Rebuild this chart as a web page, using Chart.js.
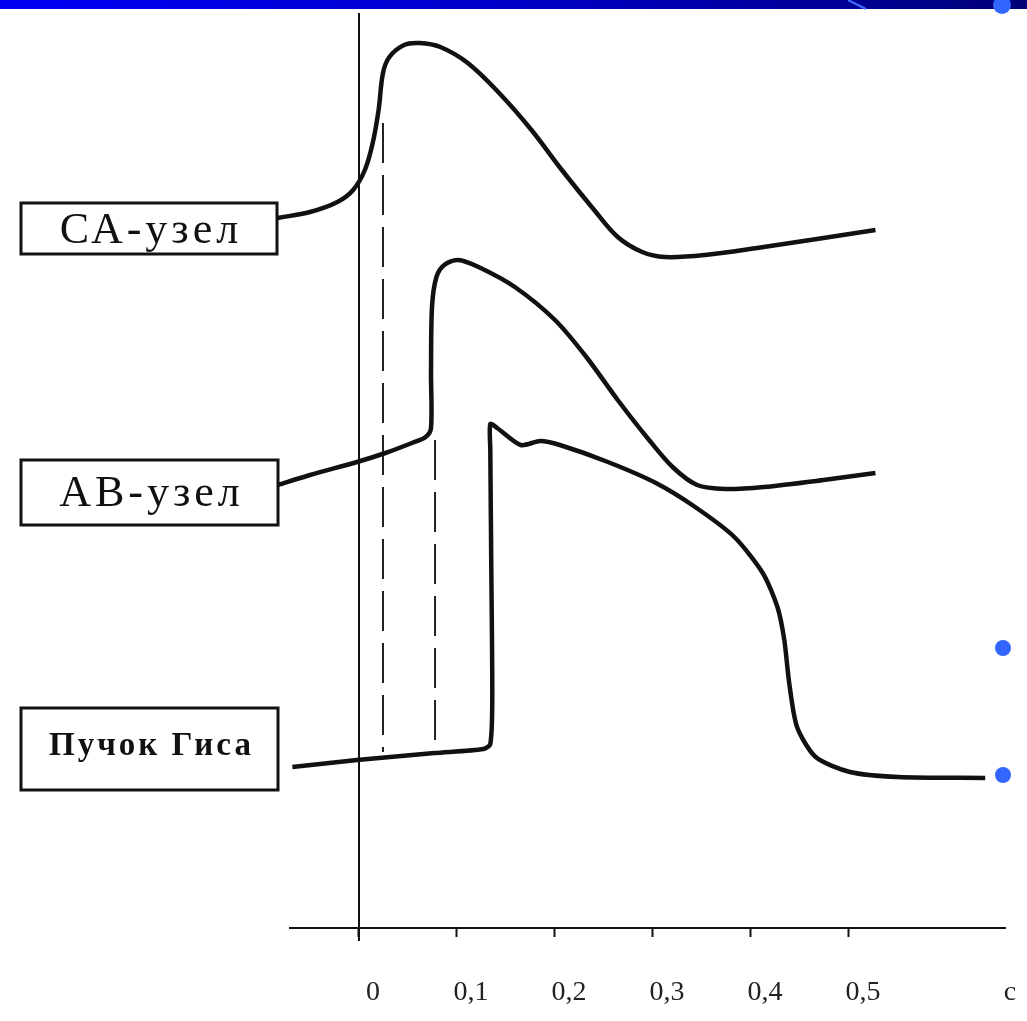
<!DOCTYPE html>
<html>
<head>
<meta charset="utf-8">
<script src="https://cdn.jsdelivr.net/npm/chart.js@4.4.0/dist/chart.umd.min.js"></script>
<style>
  html, body { margin: 0; padding: 0; background: #fff; }
  #wrap { width: 1027px; height: 1021px; position: relative; }
</style>
</head>
<body>
<div id="wrap"><canvas id="myChart"></canvas></div>
<script>
// time in seconds, potential in relative units
var seriesNames = ["СА-узел", "АВ-узел", "Пучок Гиса"];

var saX = [-0.083, -0.050, -0.022, -0.006, 0.006, 0.014, 0.020, 0.0245, 0.031, 0.046, 0.062, 0.083,
  0.111, 0.143, 0.176, 0.207, 0.240, 0.264, 0.289, 0.312, 0.353, 0.413, 0.474, 0.527];
var saY = [71.0, 71.6, 72.6, 73.8, 75.8, 78.5, 81.8, 85.5, 87.1, 88.3, 88.5, 88.1,
  86.5, 83.5, 79.8, 75.8, 71.8, 69.1, 67.6, 67.1, 67.3, 68.1, 69.0, 69.8];

var avX = [-0.083, -0.050, -0.002, 0.027, 0.054, 0.068, 0.0735, 0.0735, 0.0745, 0.079, 0.087, 0.101,
  0.122, 0.159, 0.200, 0.232, 0.264, 0.296, 0.320, 0.345, 0.374, 0.413, 0.474, 0.527];
var avY = [44.3, 45.3, 46.6, 47.5, 48.5, 49.1, 50.0, 55.5, 62.1, 65.1, 66.3, 66.8,
  66.1, 64.1, 60.8, 57.1, 52.8, 48.8, 46.1, 44.3, 43.9, 44.1, 44.8, 45.5];

var hisX = [-0.068, -0.002, 0.077, 0.127, 0.134, 0.136, 0.135, 0.134, 0.134, 0.141, 0.165, 0.185, 0.205,
  0.254, 0.303, 0.343, 0.383, 0.412, 0.427, 0.434, 0.439, 0.447, 0.466, 0.501, 0.550, 0.639];
var hisY = [16.1, 16.8, 17.5, 17.9, 18.4, 22.8, 36.1, 47.8, 50.4, 50.0, 48.3, 48.7, 48.3,
  46.6, 44.5, 42.1, 39.1, 35.5, 32.1, 28.8, 24.5, 20.1, 17.1, 15.6, 15.1, 15.0];

// dashed markers: SA-node and AV-node activation times
var markX = [0.0245, 0.0776];
var markTop = [80.5, 48.8];
var markBottom = 17.6;

var xTicks = [0, 0.1, 0.2, 0.3, 0.4, 0.5, 0.65];
var xTickLabels = ["0", "0,1", "0,2", "0,3", "0,4", "0,5", "с"];

function toPoints(xs, ys) {
  var pts = [];
  for (var i = 0; i < xs.length; i++) pts.push({ x: xs[i], y: ys[i] });
  return pts;
}

function curve(xs, ys, tension) {
  return {
    data: toPoints(xs, ys),
    borderColor: "#111",
    borderWidth: 4.5,
    pointRadius: 0,
    tension: tension,
    clip: false
  };
}

function marker(i) {
  return {
    data: [{ x: markX[i], y: markTop[i] }, { x: markX[i], y: markBottom }],
    borderColor: "#222",
    borderWidth: 2,
    borderDash: [40, 12],
    pointRadius: 0,
    clip: false
  };
}

// label boxes on the left plus the slide decorations
var boxPlugin = {
  id: "boxes",
  afterDraw: function(chart) {
    var ctx = chart.ctx;
    var boxes = [
      { x: 21, y: 203, w: 256, h: 51, font: "44px 'Liberation Serif'", sp: "4px", ty: 231 },
      { x: 21, y: 460, w: 257, h: 65, font: "44px 'Liberation Serif'", sp: "4px", ty: 494 },
      { x: 21, y: 708, w: 257, h: 82, font: "bold 33px 'Liberation Serif'", sp: "3px", ty: 746 }
    ];
    ctx.save();
    boxes.forEach(function(b, i) {
      ctx.fillStyle = "#fff";
      ctx.fillRect(b.x, b.y, b.w, b.h);
      ctx.strokeStyle = "#111";
      ctx.lineWidth = 3;
      ctx.strokeRect(b.x, b.y, b.w, b.h);
      ctx.fillStyle = "#111";
      ctx.font = b.font;
      ctx.letterSpacing = b.sp;
      ctx.textAlign = "center";
      ctx.textBaseline = "middle";
      ctx.fillText(seriesNames[i], b.x + b.w / 2 + 2, b.ty);
    });
    ctx.letterSpacing = "0px";

    // top bar
    var g = ctx.createLinearGradient(0, 0, 1027, 0);
    g.addColorStop(0, "#0000f5");
    g.addColorStop(0.5, "#0000c8");
    g.addColorStop(1, "#000078");
    ctx.fillStyle = g;
    ctx.fillRect(0, 0, 1027, 9);
    ctx.strokeStyle = "#3f6fff";
    ctx.lineWidth = 2;
    ctx.beginPath();
    ctx.moveTo(848, 0);
    ctx.lineTo(866, 9);
    ctx.stroke();

    ctx.fillStyle = "#3366ff";
    [[1002, 5, 9], [1003, 648, 8], [1003, 775, 8]].forEach(function(d) {
      ctx.beginPath();
      ctx.arc(d[0], d[1], d[2], 0, Math.PI * 2);
      ctx.fill();
    });
    ctx.restore();
  }
};

window.onload = function() {
  var ctx = document.getElementById("myChart").getContext("2d");
  var chart = new Chart(ctx, {
    type: "line",
    data: {
      datasets: [
        curve(saX, saY, 0.35),
        curve(avX, avY, 0.3),
        curve(hisX, hisY, 0.25),
        marker(0),
        marker(1)
      ]
    },
    options: {
      responsive: true,
      maintainAspectRatio: false,
      animation: false,
      layout: { padding: { left: 290, right: 22, top: 14, bottom: 81 } },
      plugins: { legend: { display: false }, tooltip: { enabled: false } },
      scales: {
        x: {
          type: "linear",
          position: { y: 0 },
          min: -0.0704,
          max: 0.6592,
          afterBuildTicks: function(scale) {
            scale.ticks = xTicks.map(function(v) { return { value: v }; });
          },
          ticks: {
            autoSkip: false,
            maxRotation: 0,
            padding: 15,
            labelOffset: 14,
            color: "#222",
            font: { family: "'Liberation Serif'", size: 28, lineHeight: 3 },
            callback: function(value, index) { return xTickLabels[index]; }
          },
          grid: {
            drawOnChartArea: false,
            tickLength: 8,
            tickWidth: 2,
            tickColor: function(c) { return c.index === xTicks.length - 1 ? "rgba(0,0,0,0)" : "#111"; }
          },
          border: { display: true, color: "#111", width: 2 }
        },
        y: {
          type: "linear",
          position: { x: 0 },
          min: -1.2,
          max: 91.4,
          ticks: { display: false },
          grid: { drawOnChartArea: false, drawTicks: false },
          border: { display: true, color: "#111", width: 2 }
        }
      }
    },
    plugins: [boxPlugin]
  });
};
</script>
</body>
</html>
